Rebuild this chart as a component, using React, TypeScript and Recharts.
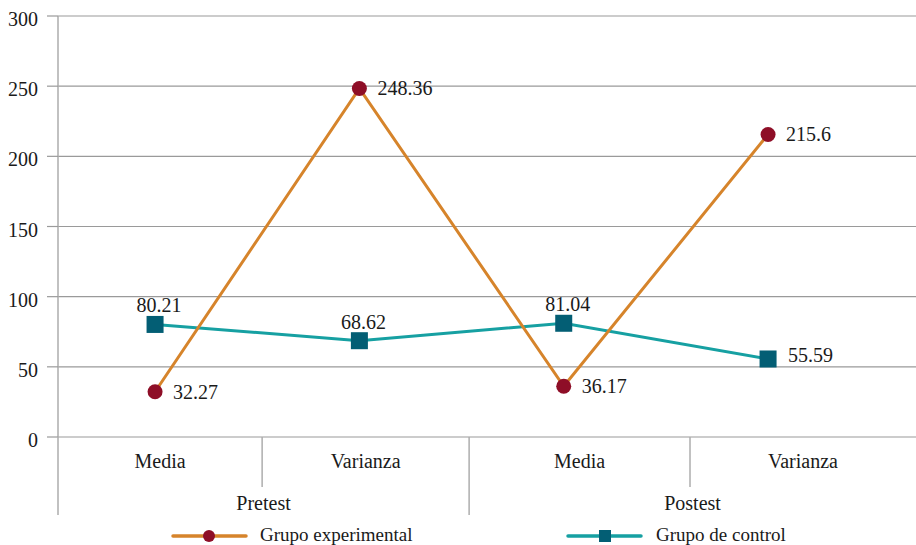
import React from 'react';
import { LineChart, Line, XAxis, YAxis, CartesianGrid, LabelList } from 'recharts';

const categories = ['Media', 'Varianza', 'Media', 'Varianza'];
const groups = ['Pretest', 'Postest'];
const experimental = [32.27, 248.36, 36.17, 215.6];
const control = [80.21, 68.62, 81.04, 55.59];
const yTicks = [0, 50, 100, 150, 200, 250, 300];
const seriesNames = ['Grupo experimental', 'Grupo de control'];

const FONT = 'Liberation Serif, DejaVu Serif, serif';
const TEXT = '#1a1a1a';
const ORANGE = '#D6842B';
const RED = '#8E0E27';
const TEAL = '#16A0A2';
const NAVY = '#035E74';
const GRID = '#9a9a9a';
const AXIS = '#adadad';

const txtStyle: React.CSSProperties = { fontFamily: FONT, fontSize: 20 };

// x axis layout (data units of the category index axis)
const xDomain: [number, number] = [-0.475, 3.724];
const catBounds = [xDomain[0], 0.524, 1.537, 2.618, xDomain[1]];
const controlLabelSide = ['top', 'top', 'top', 'right'];

const data = categories.map((c, i) => ({
  x: i,
  cat: c,
  exp: experimental[i],
  ctrl: control[i],
}));

type Spec = { v: number; kind: 'cat' | 'group' | 'sep'; text?: string; len?: number };
const tickSpecs: Spec[] = [];
categories.forEach((c, i) => {
  tickSpecs.push({ v: (catBounds[i] + catBounds[i + 1]) / 2, kind: 'cat', text: c });
});
groups.forEach((g, gi) => {
  tickSpecs.push({ v: (catBounds[gi * 2] + catBounds[gi * 2 + 2]) / 2, kind: 'group', text: g });
});
[0, 1, 2, 3].forEach((i) => {
  tickSpecs.push({ v: catBounds[i], kind: 'sep', len: i % 2 === 0 ? 78 : 50 });
});
const xTicks = tickSpecs.map((s) => s.v);

function XTick(props: any) {
  const { x, y, payload } = props;
  const spec = tickSpecs.find((s) => s.v === payload.value);
  if (!spec) return null;
  if (spec.kind === 'sep') {
    return <line x1={x} x2={x} y1={y} y2={y + (spec.len || 0)} stroke={AXIS} strokeWidth={1.5} />;
  }
  return (
    <text x={x} y={y + (spec.kind === 'cat' ? 31 : 73)} textAnchor="middle" style={txtStyle} fill={TEXT}>
      {spec.text}
    </text>
  );
}

function YTick(props: any) {
  const { x, y, payload } = props;
  return (
    <text x={x} y={y + 10} textAnchor="end" style={txtStyle} fill={TEXT}>
      {payload.value}
    </text>
  );
}

function ExpLabel(props: any) {
  const { x, y, value } = props;
  return (
    <text x={x + 18} y={y + 7} textAnchor="start" style={txtStyle} fill={TEXT}>
      {value}
    </text>
  );
}

function CtrlLabel(props: any) {
  const { x, y, value, index } = props;
  if (controlLabelSide[index] === 'right') {
    return (
      <text x={x + 20} y={y + 3} textAnchor="start" style={txtStyle} fill={TEXT}>
        {value}
      </text>
    );
  }
  return (
    <text x={x + 4} y={y - 12} textAnchor="middle" style={txtStyle} fill={TEXT}>
      {value}
    </text>
  );
}

function SquareDot(props: any) {
  const { cx, cy, index } = props;
  return <rect key={`sq-${index}`} x={cx - 8.5} y={cy - 8.5} width={17} height={17} fill={NAVY} />;
}

function CircleDot(props: any) {
  const { cx, cy, index } = props;
  return <circle key={`ci-${index}`} cx={cx} cy={cy} r={7.5} fill={RED} />;
}

export default function App() {
  return (
    <div style={{ position: 'absolute', left: 0, top: 0, width: 916, height: 545, background: '#fff', fontFamily: FONT }}>
      <LineChart width={916} height={545} data={data} margin={{ top: 16, right: 0, left: 0, bottom: 0 }} style={{ fontFamily: FONT }}>
        <CartesianGrid vertical={false} stroke={GRID} strokeWidth={1.2} />
        <XAxis
          dataKey="x"
          type="number"
          domain={xDomain}
          allowDataOverflow
          ticks={xTicks}
          interval={0}
          tick={<XTick />}
          tickLine={false}
          tickSize={0}
          tickMargin={0}
          axisLine={false}
          height={108}
        />
        <YAxis
          type="number"
          domain={[0, 300]}
          ticks={yTicks}
          interval={0}
          width={58}
          tickSize={11}
          tickMargin={9}
          tickLine={{ stroke: GRID, strokeWidth: 1.2 }}
          axisLine={{ stroke: AXIS, strokeWidth: 1.5 }}
          tick={<YTick />}
        />
        <Line
          type="linear"
          dataKey="ctrl"
          name={seriesNames[1]}
          stroke={TEAL}
          strokeWidth={3}
          dot={<SquareDot />}
          activeDot={false}
          isAnimationActive={false}
        >
          <LabelList dataKey="ctrl" content={<CtrlLabel />} />
        </Line>
        <Line
          type="linear"
          dataKey="exp"
          name={seriesNames[0]}
          stroke={ORANGE}
          strokeWidth={3}
          dot={<CircleDot />}
          activeDot={false}
          isAnimationActive={false}
        >
          <LabelList dataKey="exp" content={<ExpLabel />} />
        </Line>
      </LineChart>
      <svg width={916} height={22} style={{ position: 'absolute', left: 0, top: 525 }}>
        <line x1={173} x2={246} y1={11} y2={11} stroke={ORANGE} strokeWidth={3.5} strokeLinecap="round" />
        <circle cx={209} cy={11} r={6} fill={RED} />
        <text x={260} y={16} style={{ fontFamily: FONT, fontSize: 19 }} fill={TEXT}>
          {seriesNames[0]}
        </text>
        <line x1={568} x2={641} y1={11} y2={11} stroke={TEAL} strokeWidth={3.5} strokeLinecap="round" />
        <rect x={599} y={5} width={12} height={12} fill={NAVY} />
        <text x={656} y={16} style={{ fontFamily: FONT, fontSize: 19 }} fill={TEXT}>
          {seriesNames[1]}
        </text>
      </svg>
    </div>
  );
}
